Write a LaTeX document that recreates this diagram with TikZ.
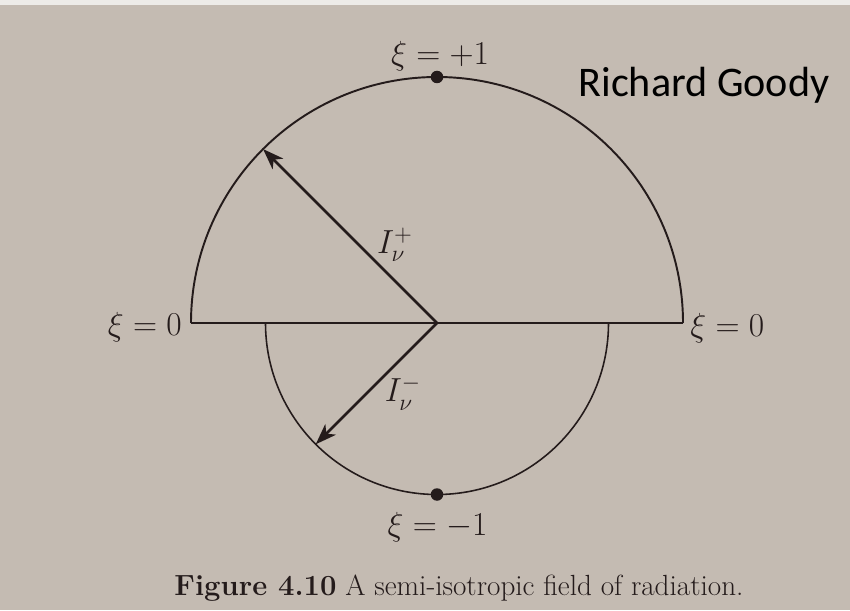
\RequirePackage{fix-cm}
\documentclass[tikz,border=0pt]{standalone}
\usepackage{fontspec}
\newfontfamily\notefont{Carlito}
\usetikzlibrary{arrows.meta}
\definecolor{paper}{RGB}{196,187,178}
\definecolor{ink}{RGB}{36,27,27}
\tikzset{
  rim/.style={ink, line width=1.1pt},
  ray/.style={ink, line width=1.5pt, -{Stealth[length=0.42cm, width=0.30cm, inset=0.12cm]}},
  pole/.style={circle, fill=ink, inner sep=0pt, minimum size=0.25cm},
  xilabel/.style={ink, inner sep=0pt, font=\fontsize{19}{22}\selectfont},
  ilabel/.style={ink, inner sep=0pt, font=\fontsize{19}{22}\selectfont}
}
\begin{document}
\begin{tikzpicture}
\fill[paper] (0,0) rectangle (17,12.2);
\fill[white!70!paper] (0,12.1) rectangle (17,12.2);
\useasboundingbox (0,0) rectangle (17,12.2);
% centre and the two half circles
\coordinate (O) at (8.74,5.74);
\coordinate (upL) at (3.82,5.74); \coordinate (upR) at (13.66,5.74);
\coordinate (loL) at (5.31,5.74);
\draw[rim] (upL) arc (180:0:4.92);
\draw[rim, line width=1.2pt] (upL) -- (upR);
\draw[rim, line width=0.9pt] (loL) arc (180:360:3.43);
\node[pole] (top) at ([shift={(90:4.92)}]O) {};
\node[pole] (bot) at ([shift={(270:3.43)}]O) {};
% intensities
\coordinate (tipU) at ([shift={(135:4.92)}]O);
\coordinate (tipD) at ([shift={(225:3.43)}]O);
\draw[ray] (O) -- (tipU);
\draw[ray] (O) -- (tipD);
\node[ilabel] (Iup) at (7.90,7.30) {$I_\nu^{+}$};
\node[ilabel] (Idn) at (8.06,4.34) {$I_\nu^{-}$};
% labels
\node[xilabel, anchor=base] (xiP) at (8.80,10.90) {$\xi = +1$};
\node[xilabel, anchor=base] (xiM) at (8.75,1.50) {$\xi = -1$};
\node[xilabel, anchor=base east] (xiL) at (3.64,5.50) {$\xi = 0$};
\node[xilabel, anchor=base west] (xiR) at (13.80,5.48) {$\xi = 0$};
\node[anchor=base, inner sep=0pt, font=\notefont\fontsize{24}{28}\selectfont] (auth) at (14.08,10.26) {Richard Goody};
\node[anchor=base, inner sep=0pt, ink, font=\fontsize{16.6}{19}\selectfont] (cap) at (9.18,0.30) {\textbf{Figure 4.10} A semi-isotropic field of radiation.};
\end{tikzpicture}
\end{document}
